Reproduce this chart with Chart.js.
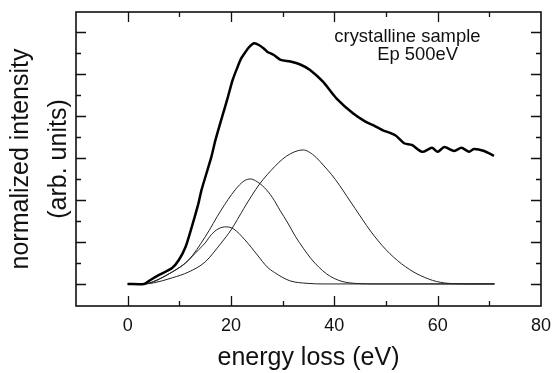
<!DOCTYPE html>
<html>
<head>
<meta charset="utf-8">
<script src="https://cdn.jsdelivr.net/npm/chart.js@4.4.1/dist/chart.umd.min.js"></script>
<style>
  html, body { margin: 0; padding: 0; background: #fff; }
  #wrap { width: 560px; height: 373px; }
</style>
</head>
<body>
<div id="wrap"><canvas id="eels" width="560" height="373"></canvas></div>
<script>
// measured spectrum (thick) and the three fitted components (thin)
const totalX = [0, 3.2, 4.4, 6.1, 8.6, 9.9, 11.2, 12.4, 13.7, 14.3, 16.2, 17.0, 19.4, 20.3, 21.3, 22.0, 22.8, 23.6, 24.5, 25.4, 26.4, 27.0, 28.3, 29.6, 31.5, 33.4, 35.3, 37.8, 40.4, 43.6, 46.1, 47.4, 49.3, 51.8, 53.5, 55.0, 57.0, 58.9, 60.0, 61.3, 63.2, 64.6, 66.1, 67.0, 69.0, 70.9];
const totalY = [0, 0, 0.19, 0.43, 0.76, 1.14, 1.76, 2.71, 3.84, 4.48, 6.05, 6.86, 8.9, 9.7, 10.35, 10.75, 11.05, 11.3, 11.46, 11.38, 11.2, 11.06, 10.9, 10.67, 10.59, 10.45, 10.19, 9.63, 8.84, 8.13, 7.72, 7.57, 7.33, 7.08, 6.7, 6.62, 6.29, 6.48, 6.29, 6.52, 6.33, 6.48, 6.29, 6.43, 6.33, 6.10];

const peak1X = [0, 3.2, 5.0, 7.4, 9.9, 11.2, 13.7, 15.0, 16.2, 17.5, 19.1, 20.5, 22.7, 25.1, 27.0, 28.4, 31.4, 34.7, 38.0, 71.0];
const peak1Y = [0, 0, 0.1, 0.4, 0.76, 1.0, 1.62, 1.95, 2.35, 2.62, 2.72, 2.62, 2.1, 1.38, 0.81, 0.55, 0.15, 0.03, 0, 0];

const peak2X = [0, 3.2, 5.0, 8.6, 11.8, 15.0, 18.1, 20.8, 22.5, 23.8, 25.1, 26.5, 28.0, 29.5, 31.0, 32.5, 34.0, 35.5, 37.0, 38.5, 40.0, 41.5, 43.0, 45.0, 48.0, 71.0];
const peak2Y = [0, 0, 0.12, 0.57, 1.14, 2.24, 3.52, 4.48, 4.9, 5.0, 4.86, 4.58, 4.12, 3.5, 2.9, 2.25, 1.7, 1.2, 0.8, 0.48, 0.26, 0.12, 0.05, 0.015, 0, 0];

const peak3X = [0, 3.2, 5.0, 8.6, 11.8, 15.0, 18.1, 20.0, 22.5, 24.0, 25.5, 27.0, 28.5, 30.0, 31.5, 33.0, 34.0, 35.0, 36.5, 38.0, 39.5, 41.0, 42.5, 44.0, 45.5, 47.0, 48.5, 50.0, 51.5, 53.0, 54.5, 56.0, 57.5, 59.0, 60.5, 62.0, 64.0, 66.0, 71.0];
const peak3Y = [0, 0, 0.05, 0.29, 0.57, 1.05, 1.95, 2.57, 3.6, 4.2, 4.75, 5.2, 5.6, 5.95, 6.2, 6.35, 6.38, 6.3, 6.02, 5.62, 5.2, 4.7, 4.15, 3.6, 3.05, 2.52, 2.05, 1.63, 1.27, 0.96, 0.7, 0.48, 0.31, 0.17, 0.08, 0.03, 0.01, 0, 0];

const xLabelValues = [0, 20, 40, 60, 80];
const xTickValues = [0, 10, 20, 30, 40, 50, 60, 70];
const yTickValues = [0, 1, 2, 3, 4, 5, 6, 7, 8, 9, 10, 11, 12];

const FONT = '"Liberation Sans", Arial, sans-serif';

function pts(xs, ys) {
  return xs.map((x, i) => ({ x: x, y: ys[i] }));
}

// frame box, inward ticks on all four sides, and the sample note
const framePlugin = {
  id: 'frame',
  afterDatasetsDraw(chart) {
    const { ctx, chartArea: a, scales: { x, y } } = chart;
    ctx.save();
    ctx.strokeStyle = '#111';
    ctx.lineWidth = 1.6;
    ctx.strokeRect(a.left, a.top, a.right - a.left, a.bottom - a.top);

    ctx.lineWidth = 1.3;
    ctx.beginPath();
    xTickValues.forEach(v => {
      const px = Math.round(x.getPixelForValue(v)) + 0.5;
      const len = v % 20 === 0 ? 10 : 5;
      ctx.moveTo(px, a.bottom); ctx.lineTo(px, a.bottom - len);
      ctx.moveTo(px, a.top); ctx.lineTo(px, a.top + len);
    });
    yTickValues.forEach(v => {
      const py = Math.round(y.getPixelForValue(v)) + 0.5;
      const len = v % 2 === 0 ? 10 : 5;
      ctx.moveTo(a.left, py); ctx.lineTo(a.left + len, py);
      ctx.moveTo(a.right, py); ctx.lineTo(a.right - len, py);
    });
    ctx.stroke();

    ctx.fillStyle = '#111';
    ctx.font = '18.4px ' + FONT;
    ctx.textAlign = 'left';
    ctx.textBaseline = 'alphabetic';
    ctx.fillText('crystalline sample', x.getPixelForValue(40), y.getPixelForValue(11.54));
    ctx.fillText('Ep 500eV', x.getPixelForValue(48.3), y.getPixelForValue(10.67));
    ctx.restore();
  }
};

const ctx = document.getElementById('eels').getContext('2d');
new Chart(ctx, {
  type: 'scatter',
  data: {
    datasets: [
      {
        label: 'measured',
        data: pts(totalX, totalY),
        showLine: true,
        borderColor: '#000',
        borderWidth: 2.5,
        pointRadius: 0,
        tension: 0.25
      },
      {
        label: 'peak 1',
        data: pts(peak1X, peak1Y),
        showLine: true,
        borderColor: '#222',
        borderWidth: 1,
        pointRadius: 0,
        cubicInterpolationMode: 'monotone'
      },
      {
        label: 'peak 2',
        data: pts(peak2X, peak2Y),
        showLine: true,
        borderColor: '#222',
        borderWidth: 1,
        pointRadius: 0,
        cubicInterpolationMode: 'monotone'
      },
      {
        label: 'peak 3',
        data: pts(peak3X, peak3Y),
        showLine: true,
        borderColor: '#222',
        borderWidth: 1,
        pointRadius: 0,
        cubicInterpolationMode: 'monotone'
      }
    ]
  },
  options: {
    responsive: false,
    animation: false,
    devicePixelRatio: 1,
    layout: { padding: { top: 12, right: 12, left: 0, bottom: 0 } },
    plugins: {
      legend: { display: false },
      tooltip: { enabled: false }
    },
    scales: {
      x: {
        type: 'linear',
        min: -10,
        max: 80,
        afterBuildTicks: s => { s.ticks = xLabelValues.map(v => ({ value: v })); },
        afterFit: s => { s.height = 67; },
        grid: { display: false, drawTicks: false },
        border: { display: false },
        ticks: {
          color: '#111',
          padding: 9,
          maxRotation: 0,
          font: { family: FONT, size: 18 }
        },
        title: {
          display: true,
          text: 'energy loss (eV)',
          color: '#111',
          padding: 0,
          font: { family: FONT, size: 25, lineHeight: 1.2 }
        }
      },
      y: {
        type: 'linear',
        min: -1.05,
        max: 12.95,
        afterFit: s => { s.width = 76; },
        grid: { display: false, drawTicks: false },
        border: { display: false },
        ticks: { display: false },
        title: {
          display: true,
          text: ['normalized intensity', '(arb. units)'],
          color: '#111',
          padding: { top: 2, bottom: 0 },
          font: { family: FONT, size: 25, lineHeight: 1.52 }
        }
      }
    }
  },
  plugins: [framePlugin]
});
</script>
</body>
</html>
